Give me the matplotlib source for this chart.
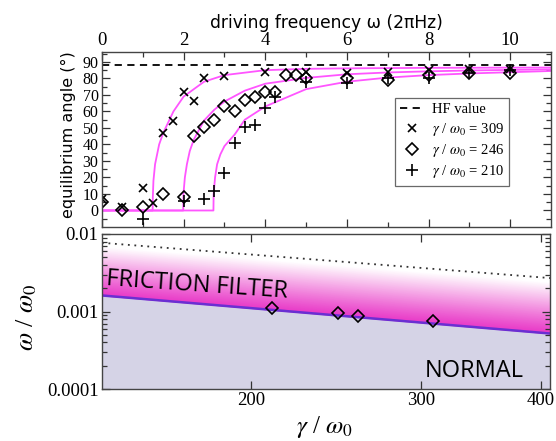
import matplotlib.pyplot as plt
import numpy as np

plt.rcParams['font.family'] = ['Liberation Serif', 'DejaVu Sans']
plt.rcParams['mathtext.fontset'] = 'stix'

# ---- top panel: equilibrium angle vs driving frequency ----
w_309 = [0, 0.5, 1, 1.25, 1.5, 1.75, 2, 2.25, 2.5, 3, 4, 5, 6, 7, 8, 9, 10]
th_309 = [7, 2.4, 13.5, 4.5, 47, 54.5, 72, 66.5, 80, 81.5, 84, 84, 83, 84, 85, 85.5, 86]
w_246 = [0, 0.5, 1, 1.5, 2, 2.25, 2.5, 2.75, 3, 3.25, 3.5, 3.75, 4, 4.25,
         4.5, 4.75, 5, 6, 7, 8, 9, 10]
th_246 = [5, 0, 2, 10, 8, 45, 50.5, 55, 63, 60, 67, 69, 71.5, 72,
          82, 82, 80, 80, 79, 82, 83, 83]
w_210 = [1, 2, 2.5, 2.75, 3, 3.25, 3.5, 3.75, 4, 4.25, 5, 6, 7, 8, 9, 10]
th_210 = [-5, 5.5, 7, 12, 23, 41, 50.5, 51.5, 62, 68.5, 78, 77, 80, 80, 83, 85]

hf_value = 88

# fitted curves
fit_w_309 = [0, 1.24, 1.245, 1.26, 1.30, 1.40, 1.5, 1.75, 2.0, 2.5, 3.0, 4.0, 5, 6, 8, 11]
fit_th_309 = [0, 0, 8, 18, 28, 40, 47, 60, 69, 78, 82, 85, 85.8, 86.1, 86.4, 86.6]
fit_w_246 = [0, 1.99, 1.995, 2.03, 2.08, 2.15, 2.25, 2.5, 2.75, 3, 3.5, 4, 5, 6, 7, 8, 9, 11]
fit_th_246 = [0, 0, 10, 20, 28, 36, 43, 54.5, 61, 66, 72.6, 76.8, 80.3, 82.5, 83.6, 84.3, 84.8, 85.5]
fit_w_210 = [0, 2.73, 2.735, 2.77, 2.82, 2.9, 3.0, 3.25, 3.5, 4, 5, 6, 7, 8, 9, 11]
fit_th_210 = [0, 0, 10, 20, 28, 34, 39, 46, 55, 63, 73.5, 78, 80.5, 82, 83, 84.5]

# ---- bottom panel: critical frequency vs friction ----
gamma_crit = [210, 246, 258, 309]
omega_crit = [0.0011, 0.00095, 0.000875, 0.00076]
edge_gamma = [140, 408.6]
normal_edge = [0.00161, 0.00052]
filter_edge = [0.0077, 0.0027]

fig = plt.figure(figsize=(5.56, 4.41), dpi=100)
ax1 = fig.add_axes([102/556, 1-227/441, 449/556, 175/441])
ax2 = fig.add_axes([102/556, 1-389/441, 448/556, 155/441])

fit_col = '#ff55ff'
ax1.axhline(hf_value, color='black', ls=(0, (4, 3)), lw=1.3, label='HF value')
ax1.plot(fit_w_309, fit_th_309, color=fit_col, lw=1.3)
ax1.plot(fit_w_246, fit_th_246, color=fit_col, lw=1.3)
ax1.plot(fit_w_210, fit_th_210, color=fit_col, lw=1.3)
ax1.plot(w_309, th_309, ls='none', marker='x', ms=6, mew=1.2, color='black',
         label=r'$\gamma$ / $\omega_0$ = 309')
ax1.plot(w_246, th_246, ls='none', marker='D', ms=6, mew=1.2, mfc='none', mec='black',
         label=r'$\gamma$ / $\omega_0$ = 246')
ax1.plot(w_210, th_210, ls='none', marker='+', ms=8, mew=1.2, color='black',
         label=r'$\gamma$ / $\omega_0$ = 210')

ax1.set_xlim(0, 11)
ax1.set_ylim(-10, 96)
ax1.set_xticks(np.arange(0, 11, 2))
ax1.set_xticks(np.arange(1, 11, 2), minor=True)
ax1.set_yticks(np.arange(0, 91, 10))
ax1.set_yticks(np.arange(-5, 96, 5), minor=True)
ax1.tick_params(labeltop=True, labelbottom=False)
fig.text(326.5/556, 1-23/441, 'driving frequency ω (2πHz)', family='DejaVu Sans',
         fontsize=12.3, ha='center', va='center')
fig.text(68/556, 1-135/441, 'equilibrium angle (°)', family='DejaVu Sans', fontsize=11.5,
         rotation=90, ha='center', va='center')

leg = ax1.legend(loc='upper left', bbox_to_anchor=(0.652, 0.737), fontsize=10.5,
                 frameon=True, fancybox=False, handlelength=1.7, borderpad=0.35,
                 labelspacing=0.3, handletextpad=0.5, borderaxespad=0)
leg.get_frame().set_edgecolor('#444444')
leg.get_frame().set_linewidth(0.9)

# bottom panel
ax2.set_xscale('log')
ax2.set_yscale('log')
ax2.fill_between(edge_gamma, [1e-4, 1e-4], normal_edge, color='#d5d3e6', lw=0)
base = np.array([0.91, 0.22, 0.78])
nb = 80
ratio = np.array(filter_edge) / np.array(normal_edge)
for k in range(nb):
    t0, t1 = k / nb, (k + 1) / nb
    lo = np.array(normal_edge) * ratio ** t0
    hi = np.array(normal_edge) * ratio ** t1
    f = min(1.0, t0 ** 1.1 * 1.08)
    c = base * (1 - f) + np.ones(3) * f
    ax2.fill_between(edge_gamma, lo, hi, color=c, lw=0.6, edgecolor=c)
ax2.plot(edge_gamma, normal_edge, color='#6a2fd2', lw=1.8)
ax2.plot(edge_gamma, filter_edge, color='#333333', ls=(0, (1, 2.6)), lw=1.3)
ax2.plot(gamma_crit, omega_crit, ls='none', marker='D', ms=6.5, mew=1.2, mfc='none', mec='black')

ax2.set_xlim(edge_gamma)
ax2.set_ylim(1e-4, 1e-2)
ax2.set_xticks([200, 300, 400])
ax2.set_xticklabels(['200', '300', '400'])
ax2.xaxis.set_minor_locator(plt.NullLocator())
ax2.set_yticks([1e-4, 1e-3, 1e-2])
ax2.set_yticklabels(['0.0001', '0.001', '0.01'])

ax2.text(0.01, 0.71, 'FRICTION FILTER', transform=ax2.transAxes, family='Open Sans',
         fontsize=17, rotation=-4, rotation_mode='anchor', ha='left', va='center')
ax2.text(341, 0.00017, 'NORMAL', family='Open Sans', fontsize=17, ha='center', va='center')

fig.text(27/556, 1-317/441, r'$\omega$ / $\omega_0$', fontsize=19, rotation=90,
         ha='center', va='center')
fig.text(325/556, 1-427/441, r'$\gamma$ / $\omega_0$', fontsize=18, ha='center', va='center')

for ax in (ax1, ax2):
    ax.tick_params(which='both', direction='in', top=True, right=True, labelsize=13.5,
                   colors='#333333', labelcolor='black', pad=2.5)
    ax.tick_params(which='major', length=6, width=0.9)
    ax.tick_params(which='minor', length=3.5, width=0.9)
    for s in ax.spines.values():
        s.set_color('#444444')
        s.set_linewidth(1.0)
ax1.tick_params(axis='y', labelsize=11.5)

fig.savefig('out.png', dpi=100)
